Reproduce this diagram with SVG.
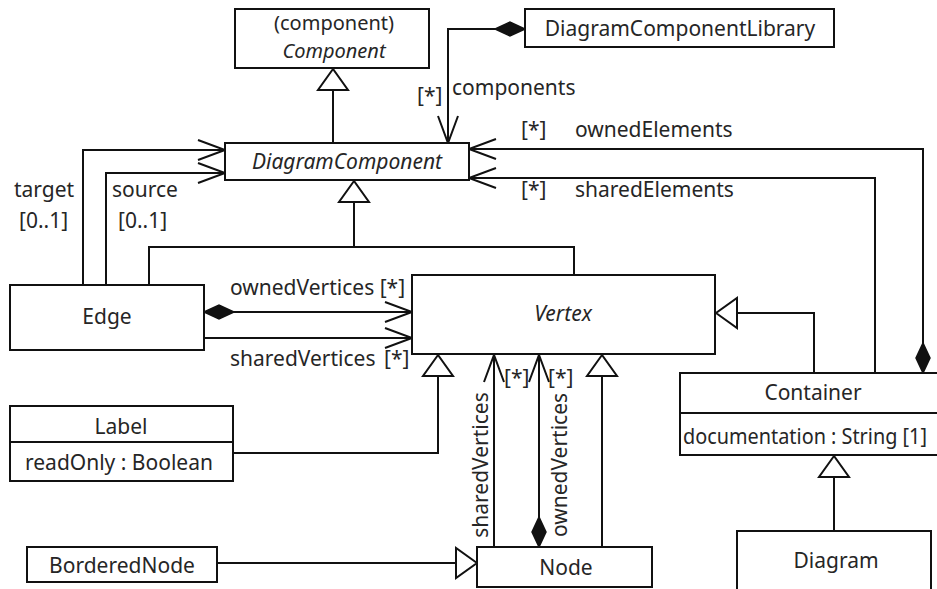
<svg xmlns="http://www.w3.org/2000/svg" width="937" height="589" viewBox="0 0 937 589">
<style>
.box{fill:#fff;stroke:#111;stroke-width:2}
.ln{fill:none;stroke:#111;stroke-width:2}
text{font-family:"Noto Sans","Open Sans","DejaVu Sans",sans-serif;font-size:21px;fill:#262626}
.c{text-anchor:middle}
.it{font-style:italic}
.sm{font-size:20px}
</style>
<defs>
<marker id="open" markerUnits="userSpaceOnUse" viewBox="-30 -12 32 24" refX="0" refY="0" markerWidth="32" markerHeight="24" orient="auto" overflow="visible">
<path d="M-27,-10 L0,0 L-27,10" fill="none" stroke="#111" stroke-width="2"/>
</marker>
<marker id="tri" markerUnits="userSpaceOnUse" viewBox="-23 -17 25 34" refX="0" refY="0" markerWidth="25" markerHeight="34" orient="auto" overflow="visible">
<path d="M0,0 L-21,-15 L-21,15 Z" fill="#fff" stroke="#111" stroke-width="2"/>
</marker>
<marker id="dia" markerUnits="userSpaceOnUse" viewBox="-2 -9 34 18" refX="0" refY="0" markerWidth="34" markerHeight="18" orient="auto" overflow="visible">
<path d="M0,0 L15,-7 L30,0 L15,7 Z" fill="#111" stroke="#111" stroke-width="1.5"/>
</marker>
</defs>
<rect width="937" height="589" fill="#fff"/>
<g id="connectors">
<path class="ln" d="M333,143 V69" marker-end="url(#tri)"/>
<path class="ln" d="M525,29 H448 V143" marker-start="url(#dia)" marker-end="url(#open)"/>
<path class="ln" d="M83,285 V150 H225" marker-end="url(#open)"/>
<path class="ln" d="M106,285 V173 H225" marker-end="url(#open)"/>
<path class="ln" d="M149,285 V247 H574 V275"/>
<path class="ln" d="M354,247 V181" marker-end="url(#tri)"/>
<path class="ln" d="M923,373 V149 H469" marker-start="url(#dia)" marker-end="url(#open)"/>
<path class="ln" d="M875,373 V178 H469" marker-end="url(#open)"/>
<path class="ln" d="M204,312 H412" marker-start="url(#dia)" marker-end="url(#open)"/>
<path class="ln" d="M204,338 H412" marker-end="url(#open)"/>
<path class="ln" d="M814,373 V313 H716" marker-end="url(#tri)"/>
<path class="ln" d="M233,453 H438 V355" marker-end="url(#tri)"/>
<path class="ln" d="M494,547 V355" marker-end="url(#open)"/>
<path class="ln" d="M539,547 V355" marker-start="url(#dia)" marker-end="url(#open)"/>
<path class="ln" d="M602,547 V355" marker-end="url(#tri)"/>
<path class="ln" d="M217,563 H477" marker-end="url(#tri)"/>
<path class="ln" d="M834,531 V456" marker-end="url(#tri)"/>
<text x="417" y="103">[*]</text>
<text x="452" y="95">components</text>
<text x="521" y="137">[*]</text>
<text x="575" y="137">ownedElements</text>
<text x="521" y="197">[*]</text>
<text x="575" y="197">sharedElements</text>
<text x="14" y="197">target</text>
<text x="19" y="228">[0..1]</text>
<text x="112" y="197">source</text>
<text x="118" y="228">[0..1]</text>
<text x="230" y="295">ownedVertices [*]</text>
<text x="230" y="366">sharedVertices</text>
<text x="384" y="366">[*]</text>
<text x="504" y="385">[*]</text>
<text x="548" y="385">[*]</text>
<text transform="translate(488,465) rotate(-90)" class="c">sharedVertices</text>
<text transform="translate(567,465) rotate(-90)" class="c">ownedVertices</text>
</g>
<g id="Component">
<rect class="box" x="235" y="9" width="194" height="59"/>
<text class="c sm" x="334" y="30">(component)</text>
<text class="c it sm" x="334" y="58">Component</text>
</g>
<g id="DiagramComponentLibrary">
<rect class="box" x="525" y="9" width="309" height="38"/>
<text class="c" x="680" y="36">DiagramComponentLibrary</text>
</g>
<g id="DiagramComponent">
<rect class="box" x="225" y="143" width="244" height="37"/>
<text class="c it" x="347" y="169">DiagramComponent</text>
</g>
<g id="Edge">
<rect class="box" x="10" y="285" width="194" height="65"/>
<text class="c" x="107" y="324">Edge</text>
</g>
<g id="Vertex">
<rect class="box" x="412" y="275" width="303" height="79"/>
<text class="c it" x="563" y="321">Vertex</text>
</g>
<g id="Container">
<rect class="box" x="680" y="373" width="280" height="82"/>
<line class="ln" x1="680" y1="413" x2="937" y2="413"/>
<text class="c" x="813" y="400">Container</text>
<text x="683" y="444" textLength="244" lengthAdjust="spacingAndGlyphs">documentation : String [1]</text>
</g>
<g id="Label">
<rect class="box" x="10" y="406" width="223" height="75"/>
<line class="ln" x1="10" y1="442" x2="233" y2="442"/>
<text class="c" x="121" y="434">Label</text>
<text x="25" y="470">readOnly : Boolean</text>
</g>
<g id="BorderedNode">
<rect class="box" x="27" y="547" width="190" height="35"/>
<text class="c" x="122" y="573">BorderedNode</text>
</g>
<g id="Node">
<rect class="box" x="477" y="547" width="175" height="40"/>
<text class="c" x="566" y="575">Node</text>
</g>
<g id="Diagram">
<rect class="box" x="737" y="531" width="194" height="70"/>
<text class="c" x="836" y="568">Diagram</text>
</g>
</svg>
